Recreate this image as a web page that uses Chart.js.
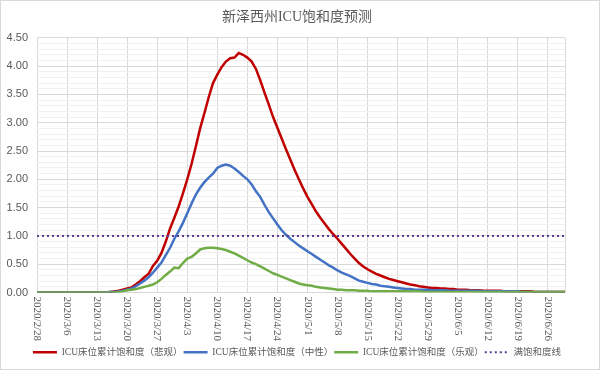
<!DOCTYPE html>
<html>
<head>
<meta charset="utf-8">
<script src="https://cdn.jsdelivr.net/npm/chart.js@4"></script>
<style>
    html, body { margin: 0; padding: 0; background: #fff; }
    #wrap { width: 600px; height: 370px; }
</style>
</head>
<body>
<div id="wrap"><canvas id="chart"></canvas></div>
<script>
// ===============================
// Dati
// ===============================

// Date giornaliere (asse X), dal 2020/2/28 al 2020/6/30
const dates = [
    "2020/2/28", "2020/2/29",
    "2020/3/1", "2020/3/2", "2020/3/3", "2020/3/4", "2020/3/5", "2020/3/6", "2020/3/7", "2020/3/8", "2020/3/9", "2020/3/10",
    "2020/3/11", "2020/3/12", "2020/3/13", "2020/3/14", "2020/3/15", "2020/3/16", "2020/3/17", "2020/3/18", "2020/3/19", "2020/3/20",
    "2020/3/21", "2020/3/22", "2020/3/23", "2020/3/24", "2020/3/25", "2020/3/26", "2020/3/27", "2020/3/28", "2020/3/29", "2020/3/30", "2020/3/31",
    "2020/4/1", "2020/4/2", "2020/4/3", "2020/4/4", "2020/4/5", "2020/4/6", "2020/4/7", "2020/4/8", "2020/4/9", "2020/4/10",
    "2020/4/11", "2020/4/12", "2020/4/13", "2020/4/14", "2020/4/15", "2020/4/16", "2020/4/17", "2020/4/18", "2020/4/19", "2020/4/20",
    "2020/4/21", "2020/4/22", "2020/4/23", "2020/4/24", "2020/4/25", "2020/4/26", "2020/4/27", "2020/4/28", "2020/4/29", "2020/4/30",
    "2020/5/1", "2020/5/2", "2020/5/3", "2020/5/4", "2020/5/5", "2020/5/6", "2020/5/7", "2020/5/8", "2020/5/9", "2020/5/10",
    "2020/5/11", "2020/5/12", "2020/5/13", "2020/5/14", "2020/5/15", "2020/5/16", "2020/5/17", "2020/5/18", "2020/5/19", "2020/5/20",
    "2020/5/21", "2020/5/22", "2020/5/23", "2020/5/24", "2020/5/25", "2020/5/26", "2020/5/27", "2020/5/28", "2020/5/29", "2020/5/30", "2020/5/31",
    "2020/6/1", "2020/6/2", "2020/6/3", "2020/6/4", "2020/6/5", "2020/6/6", "2020/6/7", "2020/6/8", "2020/6/9", "2020/6/10",
    "2020/6/11", "2020/6/12", "2020/6/13", "2020/6/14", "2020/6/15", "2020/6/16", "2020/6/17", "2020/6/18", "2020/6/19", "2020/6/20",
    "2020/6/21", "2020/6/22", "2020/6/23", "2020/6/24", "2020/6/25", "2020/6/26", "2020/6/27", "2020/6/28", "2020/6/29", "2020/6/30"
];

// Saturazione ICU - scenario pessimista (rosso)
const pessimistic = [
    0, 0, 0, 0, 0, 0, 0, 0, 0, 0,
    0, 0, 0, 0, 0, 0, 0, 0.01, 0.02, 0.03,
    0.05, 0.07, 0.09, 0.14, 0.20, 0.27, 0.33, 0.47, 0.56, 0.70,
    0.90, 1.13, 1.32, 1.52, 1.75, 2.00, 2.27, 2.58, 2.90, 3.17,
    3.45, 3.70, 3.85, 3.98, 4.08, 4.14, 4.15, 4.23, 4.20, 4.15,
    4.08, 3.95, 3.75, 3.53, 3.32, 3.10, 2.91, 2.72, 2.53, 2.35,
    2.17, 2.00, 1.84, 1.69, 1.56, 1.43, 1.32, 1.22, 1.12, 1.03,
    0.95, 0.86, 0.77, 0.68, 0.60, 0.52, 0.46, 0.41, 0.37, 0.33,
    0.30, 0.27, 0.24, 0.22, 0.20, 0.18, 0.16, 0.14, 0.13, 0.11,
    0.10, 0.09, 0.08, 0.08, 0.07, 0.07, 0.06, 0.06, 0.05, 0.05,
    0.05, 0.04, 0.04, 0.04, 0.03, 0.03, 0.03, 0.03, 0.03, 0.02,
    0.02, 0.02, 0.02, 0.02, 0.02, 0.02, 0.01, 0.01, 0.01, 0.01,
    0.01, 0.01, 0.01, 0.01
];

// Saturazione ICU - scenario neutro (blu)
const neutral = [
    0, 0, 0, 0, 0, 0, 0, 0, 0, 0,
    0, 0, 0, 0, 0, 0, 0, 0.01, 0.01, 0.02,
    0.03, 0.05, 0.07, 0.11, 0.16, 0.21, 0.27, 0.35, 0.44, 0.53,
    0.66, 0.79, 0.95, 1.08, 1.23, 1.40, 1.57, 1.73, 1.85, 1.95,
    2.03, 2.10, 2.20, 2.24, 2.26, 2.24, 2.19, 2.13, 2.06, 2.00,
    1.91, 1.79, 1.69, 1.55, 1.42, 1.31, 1.20, 1.10, 1.02, 0.95,
    0.89, 0.83, 0.78, 0.73, 0.68, 0.63, 0.58, 0.53, 0.48, 0.44,
    0.39, 0.35, 0.32, 0.29, 0.25, 0.21, 0.19, 0.17, 0.15, 0.14,
    0.12, 0.11, 0.10, 0.09, 0.08, 0.07, 0.06, 0.06, 0.05, 0.05,
    0.05, 0.05, 0.04, 0.04, 0.04, 0.04, 0.03, 0.03, 0.03, 0.03,
    0.03, 0.03, 0.03, 0.03, 0.02, 0.02, 0.02, 0.02, 0.02, 0.02,
    0.02, 0.02, 0.02, 0.01, 0.01, 0.01, 0.01, 0.01, 0.01, 0.01,
    0.01, 0.01, 0.01, 0.01
];

// Saturazione ICU - scenario ottimista (verde)
const optimistic = [
    0, 0, 0, 0, 0, 0, 0, 0, 0, 0,
    0, 0, 0, 0, 0, 0, 0, 0, 0, 0.01,
    0.02, 0.04, 0.05, 0.06, 0.08, 0.10, 0.12, 0.14, 0.18, 0.24,
    0.31, 0.37, 0.44, 0.43, 0.52, 0.60, 0.63, 0.69, 0.76, 0.78,
    0.79, 0.79, 0.78, 0.77, 0.75, 0.72, 0.69, 0.65, 0.61, 0.57,
    0.53, 0.50, 0.46, 0.42, 0.38, 0.34, 0.31, 0.28, 0.25, 0.22,
    0.19, 0.16, 0.14, 0.13, 0.12, 0.10, 0.09, 0.08, 0.07, 0.06,
    0.05, 0.05, 0.04, 0.04, 0.04, 0.03, 0.03, 0.03, 0.02, 0.02,
    0.02, 0.02, 0.02, 0.02, 0.02, 0.02, 0.02, 0.02, 0.02, 0.02,
    0.01, 0.01, 0.01, 0.01, 0.01, 0.01, 0.01, 0.01, 0.01, 0.01,
    0.01, 0.01, 0.01, 0.01, 0.01, 0.01, 0.01, 0.01, 0.01, 0.01,
    0.01, 0.01, 0.01, 0.01, 0.01, 0.01, 0.01, 0.01, 0.01, 0.01,
    0.01, 0.01, 0.01, 0.01
];

// Linea di saturazione piena (1.00), dal primo all'ultimo giorno
const fullLine = [
    { x: "2020/2/28", y: 1.00 },
    { x: "2020/6/30", y: 1.00 }
];

// Nomi delle serie (legenda)
const seriesNames = [
    "ICU床位累计饱和度（悲观）",
    "ICU床位累计饱和度（中性）",
    "ICU床位累计饱和度（乐观）",
    "满饱和度线"
];

// Tacche asse Y
const yMin = 0;
const yMax = 4.5;
const yStep = 0.1;


// ===============================
// Plugin: sfondo, cornice ed etichette date ruotate
// ===============================

const isMajor = v => Math.abs(v * 2 - Math.round(v * 2)) < 1e-6;

const framePlugin = {
    id: "frame",
    beforeDraw(chart) {
        const ctx = chart.ctx;
        ctx.save();
        ctx.fillStyle = "#ffffff";
        ctx.fillRect(0, 0, chart.width, chart.height);
        ctx.strokeStyle = "#d9d9d9";
        ctx.lineWidth = 1;
        ctx.strokeRect(0.5, 0.5, chart.width - 1, chart.height - 1);
        ctx.restore();
    }
};

const dateLabelPlugin = {
    id: "dateLabels",
    afterDraw(chart) {
        const ctx = chart.ctx;
        const x = chart.scales.x;
        const top = chart.chartArea.bottom + 4;
        ctx.save();
        ctx.fillStyle = "#595959";
        ctx.font = '11px "Liberation Serif", "Noto Sans CJK SC", serif';
        ctx.textAlign = "left";
        ctx.textBaseline = "middle";
        dates.forEach((d, i) => {
            if (i % 7 !== 0) return;
            ctx.save();
            ctx.translate(x.getPixelForValue(i), top);
            ctx.rotate(Math.PI / 2);
            ctx.fillText(d, 0, 0);
            ctx.restore();
        });
        ctx.restore();
    }
};


// ===============================
// Grafico
// ===============================

const lineStyle = (color, order) => ({
    borderColor: color,
    backgroundColor: color,
    borderWidth: 2.5,
    pointRadius: 0,
    tension: 0,
    fill: false,
    order: order
});

new Chart(document.getElementById("chart"), {
    type: "line",
    data: {
        labels: dates,
        datasets: [
            { label: seriesNames[0], data: pessimistic, ...lineStyle("#c00000", 4) },
            { label: seriesNames[1], data: neutral, ...lineStyle("#4472c4", 3) },
            { label: seriesNames[2], data: optimistic, ...lineStyle("#70ad47", 2) },
            {
                label: seriesNames[3], data: fullLine, ...lineStyle("#5b3a94", 1),
                borderWidth: 2, borderDash: [2, 3]
            }
        ]
    },
    options: {
        responsive: true,
        maintainAspectRatio: false,
        animation: false,
        layout: { padding: { left: 5, right: 11, top: 6, bottom: 3 } },
        plugins: {
            title: {
                display: true,
                text: "新泽西州ICU饱和度预测",
                color: "#595959",
                font: { size: 14, weight: "normal", family: '"Liberation Serif", "Noto Sans CJK SC", serif' },
                padding: { top: 3, bottom: 12 }
            },
            legend: {
                position: "bottom",
                labels: {
                    color: "#595959",
                    font: { size: 9.5, family: '"Liberation Serif", "Noto Sans CJK SC", serif' },
                    usePointStyle: true,
                    pointStyle: "line",
                    pointStyleWidth: 24,
                    padding: 1,
                    sort: (a, b) => a.datasetIndex - b.datasetIndex,
                    // stile linea preso dal dataset (spessore e tratteggio)
                    generateLabels: chart =>
                        Chart.defaults.plugins.legend.labels.generateLabels(chart).map(item => {
                            const ds = chart.data.datasets[item.datasetIndex];
                            item.strokeStyle = ds.borderColor;
                            item.lineWidth = ds.borderWidth;
                            item.lineDash = ds.borderDash || [];
                            return item;
                        })
                }
            },
            tooltip: { enabled: false }
        },
        scales: {
            x: {
                offset: false,
                afterFit: s => { s.height = 54; },
                grid: {
                    offset: false,
                    drawTicks: false,
                    color: c => (c.index % 7 === 0 || c.index === dates.length - 1) ? "#d9d9d9" : "rgba(0,0,0,0)"
                },
                border: { color: "#d9d9d9" },
                ticks: { display: false, autoSkip: false }
            },
            y: {
                min: yMin,
                max: yMax,
                afterFit: s => { s.width = 32; },
                grid: {
                    drawTicks: false,
                    color: c => (c.tick && isMajor(c.tick.value)) ? "#d9d9d9" : "#f0f0f0"
                },
                border: { display: false },
                ticks: {
                    stepSize: yStep,
                    autoSkip: false,
                    padding: 9,
                    color: "#595959",
                    font: { size: 11, family: '"Liberation Sans", sans-serif' },
                    callback: v => isMajor(v) ? v.toFixed(2) : ""
                }
            },
            // asse destro vuoto: solo spazio a destra dell'area del grafico
            yRight: {
                type: "linear",
                position: "right",
                min: yMin,
                max: yMax,
                afterFit: s => { s.width = 24; },
                grid: { drawOnChartArea: false, drawTicks: false },
                border: { display: false },
                ticks: { display: false }
            }
        }
    },
    plugins: [framePlugin, dateLabelPlugin]
});
</script>
</body>
</html>
